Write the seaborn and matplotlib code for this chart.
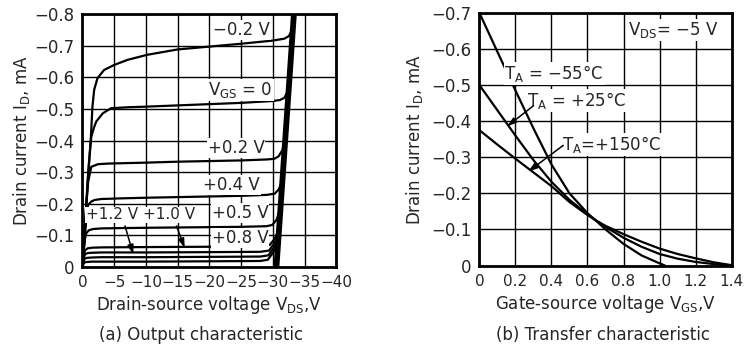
import numpy as np
import pandas as pd
import matplotlib
matplotlib.use('Agg')
import matplotlib.pyplot as plt
import seaborn as sns

# ---- (a) output characteristic: |VDS| (V) and |ID| (mA)
vds_m02 = [0, 0.5, 0.9, 1.3, 1.57, 1.84, 2.36, 3.4, 5, 7.1, 10.2, 15, 20, 25, 30, 31.8, 32.5, 32.9, 33.2]
id_m02 = [0, 0.15, 0.29, 0.40, 0.507, 0.56, 0.597, 0.623, 0.639, 0.655, 0.671, 0.688, 0.697, 0.706, 0.716, 0.722, 0.73, 0.745, 0.77]

vds_0 = [0, 0.4, 0.8, 1.1, 1.39, 1.8, 2.17, 3.2, 4.5, 7, 10, 15, 20, 25, 30, 31.1, 31.8, 32.2, 32.55]
id_0 = [0, 0.13, 0.27, 0.35, 0.412, 0.44, 0.46, 0.486, 0.502, 0.505, 0.507, 0.511, 0.515, 0.519, 0.525, 0.528, 0.535, 0.55, 0.58]

vds_p02 = [0, 0.3, 0.6, 0.9, 1.39, 2.44, 4, 10, 15, 20, 25, 29, 30.2, 30.9, 31.5, 31.9]
id_p02 = [0, 0.10, 0.20, 0.27, 0.317, 0.325, 0.327, 0.33, 0.333, 0.335, 0.337, 0.34, 0.342, 0.35, 0.37, 0.40]

vds_p04 = [0, 0.3, 0.6, 0.87, 1.4, 1.92, 3, 6, 10, 15, 20, 25, 29, 30.3, 30.9, 31.45]
id_p04 = [0, 0.08, 0.15, 0.196, 0.207, 0.212, 0.215, 0.217, 0.219, 0.221, 0.223, 0.225, 0.228, 0.232, 0.245, 0.27]

vds_p05 = [0, 0.2, 0.4, 0.6, 1.0, 1.65, 3, 6, 10, 15, 20, 25, 29, 29.9, 30.6, 31.2]
id_p05 = [0, 0.05, 0.09, 0.107, 0.116, 0.12, 0.122, 0.123, 0.124, 0.125, 0.126, 0.127, 0.129, 0.133, 0.15, 0.19]

vds_p08 = [0, 0.2, 0.4, 0.8, 1.5, 3, 10, 20, 28, 29.5, 30.3, 30.95]
id_p08 = [0, 0.035, 0.052, 0.059, 0.061, 0.062, 0.063, 0.064, 0.065, 0.07, 0.09, 0.12]

vds_p10 = [0, 0.2, 0.4, 0.8, 1.5, 3, 10, 20, 28, 29.4, 30.2, 30.9]
id_p10 = [0, 0.028, 0.04, 0.044, 0.045, 0.046, 0.046, 0.047, 0.048, 0.052, 0.075, 0.10]

vds_p12 = [0, 0.2, 0.4, 0.8, 1.5, 3, 10, 20, 28, 29.3, 30.1, 30.85]
id_p12 = [0, 0.02, 0.027, 0.029, 0.03, 0.031, 0.031, 0.032, 0.033, 0.037, 0.06, 0.085]

vds_p14 = [0, 0.2, 0.4, 0.8, 1.5, 3, 10, 20, 28, 29.2, 30.0, 30.8]
id_p14 = [0, 0.012, 0.015, 0.016, 0.017, 0.017, 0.017, 0.018, 0.019, 0.023, 0.045, 0.07]

# breakdown line
vds_bd = [30.55, 33.3]
id_bd = [0.0, 0.8]

xticks_a = [0, 5, 10, 15, 20, 25, 30, 35, 40]
xlabels_a = ['0', '−5', '−10', '−15', '−20', '−25', '−30', '−35', '−40']
yticks_a = [0, 0.1, 0.2, 0.3, 0.4, 0.5, 0.6, 0.7, 0.8]
ylabels_a = ['0', '−0.1', '−0.2', '−0.3', '−0.4', '−0.5', '−0.6', '−0.7', '−0.8']

# ---- (b) transfer characteristic: VGS (V) and |ID| (mA)
vgs_m55 = [0, 0.1, 0.2, 0.3, 0.4, 0.5, 0.6, 0.65, 0.7, 0.8, 0.9, 1.0, 1.03]
id_m55 = [0.70, 0.592, 0.485, 0.38, 0.28, 0.2, 0.145, 0.123, 0.1, 0.06, 0.028, 0.006, 0]

vgs_25 = [0, 0.1, 0.2, 0.3, 0.4, 0.5, 0.6, 0.65, 0.7, 0.8, 0.9, 1.0, 1.1, 1.2, 1.3, 1.37]
id_25 = [0.50, 0.43, 0.36, 0.292, 0.232, 0.182, 0.142, 0.124, 0.107, 0.077, 0.052, 0.032, 0.019, 0.01, 0.004, 0]

vgs_150 = [0, 0.1, 0.2, 0.3, 0.4, 0.5, 0.6, 0.65, 0.7, 0.8, 0.9, 1.0, 1.1, 1.2, 1.3, 1.4]
id_150 = [0.375, 0.335, 0.296, 0.258, 0.22, 0.176, 0.14, 0.124, 0.11, 0.087, 0.066, 0.047, 0.032, 0.02, 0.009, 0.001]

xticks_b = [0, 0.2, 0.4, 0.6, 0.8, 1.0, 1.2, 1.4]
xlabels_b = ['0', '0.2', '0.4', '0.6', '0.8', '1.0', '1.2', '1.4']
yticks_b = [0, 0.1, 0.2, 0.3, 0.4, 0.5, 0.6, 0.7]
ylabels_b = ['0', '−0.1', '−0.2', '−0.3', '−0.4', '−0.5', '−0.6', '−0.7']

out_curves = {'-0.2': (vds_m02, id_m02), '0': (vds_0, id_0), '0.2': (vds_p02, id_p02),
              '0.4': (vds_p04, id_p04), '0.5': (vds_p05, id_p05), '0.8': (vds_p08, id_p08),
              '1.0': (vds_p10, id_p10), '1.2': (vds_p12, id_p12), '1.4': (vds_p14, id_p14)}
df_a = pd.concat([pd.DataFrame({'vds': v, 'id': i, 'vgs': k}) for k, (v, i) in out_curves.items()],
                 ignore_index=True)

tr_curves = {'-55': (vgs_m55, id_m55), '25': (vgs_25, id_25), '150': (vgs_150, id_150)}
df_b = pd.concat([pd.DataFrame({'vgs': v, 'id': i, 'ta': k}) for k, (v, i) in tr_curves.items()],
                 ignore_index=True)

sns.set_style('white')
plt.rcParams['font.family'] = ['DejaVu Sans']
plt.rcParams['mathtext.default'] = 'regular'

fig = plt.figure(figsize=(7.45, 3.45), dpi=100)
ax1 = fig.add_axes([0.1107, 0.2261, 0.3409, 0.7333])
ax2 = fig.add_axes([0.6436, 0.2304, 0.3383, 0.7319])

sns.lineplot(data=df_a, x='vds', y='id', units='vgs', estimator=None, sort=False,
             color='black', lw=1.6, ax=ax1)
sns.lineplot(x=vds_bd, y=id_bd, color='black', lw=4.2, ax=ax1)

sns.lineplot(data=df_b, x='vgs', y='id', units='ta', estimator=None, sort=False,
             color='black', lw=1.6, ax=ax2)

for ax, xt, xl, yt, yl in [(ax1, xticks_a, xlabels_a, yticks_a, ylabels_a),
                           (ax2, xticks_b, xlabels_b, yticks_b, ylabels_b)]:
    ax.set_xlim(xt[0], xt[-1])
    ax.set_ylim(yt[0], yt[-1])
    ax.set_xticks(xt)
    ax.set_xticklabels(xl, fontsize=11)
    ax.set_yticks(yt)
    ax.set_yticklabels(yl, fontsize=12)
    ax.tick_params(length=0, pad=6)
    ax.grid(True, color='black', lw=1.0)
    ax.set_axisbelow(True)
    for s in ax.spines.values():
        s.set_visible(True)
        s.set_color('black')
        s.set_linewidth(2.0)

ax1.set_xlabel('Drain-source voltage $V_{DS}$,V', fontsize=12, labelpad=3)
ax1.set_ylabel('Drain current $I_D$, mA', fontsize=12, labelpad=1)
ax2.set_xlabel('Gate-source voltage $V_{GS}$,V', fontsize=12, labelpad=3)
ax2.set_ylabel('Drain current $I_D$, mA', fontsize=12, labelpad=4)

fig.text(0.27, 0.015, '(a) Output characteristic', ha='center', fontsize=12)
fig.text(0.81, 0.015, '(b) Transfer characteristic', ha='center', fontsize=12)

box = dict(facecolor='white', edgecolor='none', pad=0.6)
labels_a = [('−0.2 V', 25.1, 0.75, 12), ('$V_{GS}$ = 0', 24.9, 0.56, 12), ('+0.2 V', 24.2, 0.377, 12),
            ('+0.4 V', 23.5, 0.26, 12), ('+0.5 V', 24.8, 0.171, 12), ('+0.8 V', 24.8, 0.092, 12),
            ('+1.2 V', 4.6, 0.165, 11), ('+1.0 V', 13.6, 0.165, 11)]
for t, x, y, fs in labels_a:
    ax1.text(x, y, t, ha='center', va='center', fontsize=fs, bbox=box, zorder=3)

arrow = dict(arrowstyle='-|>,head_length=0.55,head_width=0.18', color='black', lw=1.1,
             shrinkA=0, shrinkB=0)
ax1.annotate('', xy=(8.0, 0.04), xytext=(6.7, 0.13), arrowprops=arrow, zorder=4)
ax1.annotate('', xy=(16.1, 0.06), xytext=(14.8, 0.13), arrowprops=arrow, zorder=4)

labels_b = [('$V_{DS}$= −5 V', 1.075, 0.652), ('$T_A$ = −55°C', 0.414, 0.533),
            ('$T_A$ = +25°C', 0.54, 0.457), ('$T_A$=+150°C', 0.733, 0.335)]
for t, x, y in labels_b:
    ax2.text(x, y, t, ha='center', va='center', fontsize=12, bbox=box, zorder=3)

ax2.annotate('', xy=(0.154, 0.386), xytext=(0.30, 0.443), arrowprops=arrow, zorder=4)
ax2.annotate('', xy=(0.27, 0.26), xytext=(0.465, 0.333), arrowprops=arrow, zorder=4)

fig.savefig('out.png', dpi=100)
